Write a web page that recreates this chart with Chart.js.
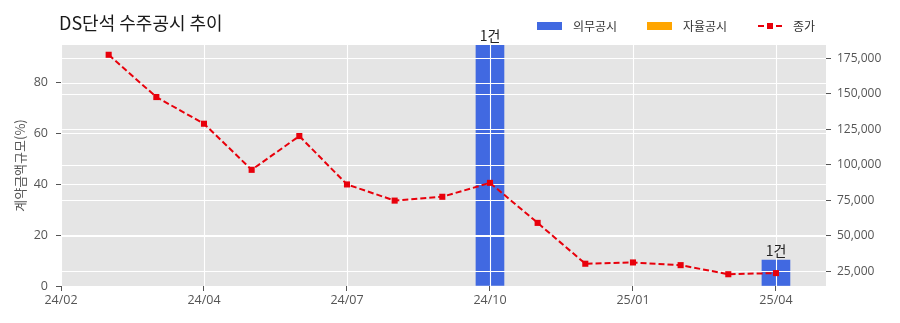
<!DOCTYPE html>
<html><head><meta charset="utf-8">
<script src="https://cdn.jsdelivr.net/npm/chart.js@4"></script>
<style>html,body{margin:0;padding:0;background:#fff}</style>
</head><body>
<canvas id="c" width="900" height="323"></canvas>
<script>
// ---- data ----
const chartTitle = 'DS단석 수주공시 추이';
const months = ['24/02','24/03','24/04','24/05','24/06','24/07','24/08','24/09','24/10','24/11','24/12','25/01','25/02','25/03','25/04'];
const closePrice = [177500,147700,128900,96400,120200,86100,74700,77400,87200,59000,30200,31100,29200,22800,23600];
const mandatoryPct = [null,null,null,null,null,null,null,null,100,null,null,null,null,null,10.2];
const voluntaryPct = [null,null,null,null,null,null,null,null,null,null,null,null,null,null,null];
const mandatoryCount = [0,0,0,0,0,0,0,0,1,0,0,0,0,0,1];
const xTickPos = [-1,2,5,8,11,14];
const xTickLabels = ['24/02','24/04','24/07','24/10','25/01','25/04'];
const leftTicks = [0,20,40,60,80];
const rightTicks = [25000,50000,75000,100000,125000,150000,175000];
const legendNames = ['의무공시','자율공시','종가'];
const leftAxisTitle = '계약금액규모(%)';

const FONT = "'Open Sans','Noto Sans CJK KR',sans-serif";
const KFONT = "'Noto Sans CJK KR','Open Sans',sans-serif";
const BLUE = '#4169E1', ORANGE = '#FFA500', RED = '#E8000B';

const toXY = arr => arr.map((v,i)=>({x:i,y:v}));

const bgPlugin = {
  id:'bg',
  beforeDraw(chart){
    const {ctx, chartArea:a} = chart;
    ctx.save(); ctx.fillStyle='#E5E5E5';
    ctx.fillRect(a.left, a.top, a.right-a.left, a.bottom-a.top);
    ctx.restore();
  }
};
const gridPlugin = {
  id:'gridOver',
  beforeDatasetDraw(chart, args){
    if (args.meta.type !== 'line') return;
    const {ctx, chartArea:a, scales} = chart;
    ctx.save();
    ctx.beginPath(); ctx.rect(a.left,a.top,a.right-a.left,a.bottom-a.top); ctx.clip();
    ctx.strokeStyle='#FFFFFF'; ctx.lineWidth=1.1;
    xTickPos.forEach(v=>{ const x=Math.round(scales.x.getPixelForValue(v))+0.5; ctx.beginPath(); ctx.moveTo(x,a.top); ctx.lineTo(x,a.bottom); ctx.stroke(); });
    leftTicks.forEach(v=>{ const y=Math.round(scales.y.getPixelForValue(v))+0.5; ctx.beginPath(); ctx.moveTo(a.left,y); ctx.lineTo(a.right,y); ctx.stroke(); });
    rightTicks.forEach(v=>{ const y=Math.round(scales.y1.getPixelForValue(v))+0.5; ctx.beginPath(); ctx.moveTo(a.left,y); ctx.lineTo(a.right,y); ctx.stroke(); });
    ctx.restore();
  }
};
const labelPlugin = {
  id:'barLabels',
  afterDatasetsDraw(chart){
    const meta = chart.getDatasetMeta(0);
    const ctx = chart.ctx; const a = chart.chartArea;
    ctx.save();
    ctx.font = '14px ' + KFONT; ctx.fillStyle='#222'; ctx.textAlign='center'; ctx.textBaseline='bottom';
    meta.data.forEach((el,i)=>{
      if (mandatoryCount[i] > 0) {
        const y = Math.max(el.y, a.top);
        ctx.fillText(mandatoryCount[i] + '건', el.x, y - 2);
      }
    });
    ctx.restore();
  }
};
const headerPlugin = {
  id:'header',
  afterDraw(chart){
    const ctx = chart.ctx;
    ctx.save();
    ctx.fillStyle='#1a1a1a'; ctx.font='18px ' + KFONT; ctx.textAlign='left'; ctx.textBaseline='middle';
    ctx.fillText(chartTitle, 59, 23);
    ctx.font='12px ' + KFONT; ctx.fillStyle='#333';
    const ly = 26;
    ctx.fillStyle=BLUE; ctx.fillRect(537, ly-4, 25, 8);
    ctx.fillStyle='#333'; ctx.fillText(legendNames[0], 573, ly);
    ctx.fillStyle=ORANGE; ctx.fillRect(647, ly-4, 25, 8);
    ctx.fillStyle='#333'; ctx.fillText(legendNames[1], 683, ly);
    ctx.strokeStyle=RED; ctx.lineWidth=2; ctx.setLineDash([6,3]);
    ctx.beginPath(); ctx.moveTo(758, ly); ctx.lineTo(783, ly); ctx.stroke();
    ctx.setLineDash([]); ctx.fillStyle=RED; ctx.fillRect(767, ly-3, 6, 6);
    ctx.fillStyle='#333'; ctx.fillText(legendNames[2], 793, ly);
    ctx.restore();
  }
};

new Chart(document.getElementById('c'), {
  data: {
    datasets: [
      { type:'bar', label:legendNames[0], data:toXY(mandatoryPct), yAxisID:'y', backgroundColor:BLUE, barThickness:28, grouped:false, order:2 },
      { type:'bar', label:legendNames[1], data:toXY(voluntaryPct), yAxisID:'y', backgroundColor:ORANGE, barThickness:28, grouped:false, order:3 },
      { type:'line', label:legendNames[2], data:toXY(closePrice), yAxisID:'y1', borderColor:RED, borderWidth:2, borderDash:[6,3],
        pointStyle:'rect', pointRadius:4.3, pointBackgroundColor:RED, pointBorderWidth:0, tension:0, fill:false, order:0 }
    ]
  },
  options: {
    responsive:false, animation:false, devicePixelRatio:1,
    layout:{ padding:{ top:45, left:0, right:0, bottom:0 } },
    plugins:{ legend:{display:false}, title:{display:false}, tooltip:{enabled:false} },
    scales:{
      x:{ type:'linear', min:-1, max:15.05, position:'bottom', offset:false,
          afterBuildTicks(s){ s.ticks = xTickPos.map(v=>({value:v})); },
          afterFit(s){ s.height = 37; },
          ticks:{ autoSkip:false, maxRotation:0, padding:2, color:'#555', font:{family:FONT, size:12.5},
                  callback(v){ const i = xTickPos.indexOf(v); return i>=0 ? xTickLabels[i] : ''; } },
          grid:{ offset:false, drawOnChartArea:false, tickLength:5, tickColor:'#555', color:'transparent' },
          border:{ display:false } },
      y:{ type:'linear', position:'left', min:0, max:94.8,
          afterBuildTicks(s){ s.ticks = leftTicks.map(v=>({value:v})); },
          afterFit(s){ s.width = 61; },
          title:{ display:true, text:leftAxisTitle, color:'#555', font:{family:KFONT, size:13}, padding:{top:12, bottom:0} },
          ticks:{ padding:8, color:'#555', font:{family:FONT, size:12.5} },
          grid:{ drawOnChartArea:false, tickLength:5, tickColor:'#555', color:'transparent' },
          border:{ display:false } },
      y1:{ type:'linear', position:'right', min:14500, max:184400,
          afterBuildTicks(s){ s.ticks = rightTicks.map(v=>({value:v})); },
          afterFit(s){ s.width = 74; },
          ticks:{ padding:6, color:'#555', font:{family:FONT, size:12}, callback(v){ return v.toLocaleString('en-US'); } },
          grid:{ drawOnChartArea:false, tickLength:5, tickColor:'#555', color:'transparent' },
          border:{ display:false } }
    }
  },
  plugins:[bgPlugin, gridPlugin, labelPlugin, headerPlugin]
});
</script>
</body></html>
